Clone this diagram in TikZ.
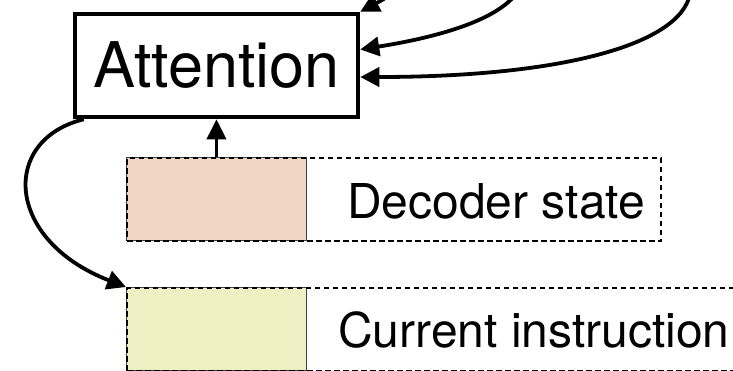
\documentclass[tikz,border=0pt]{standalone}
\usepackage{fontspec}
\setmainfont{TeX Gyre Heros}
\usetikzlibrary{arrows.meta}
\definecolor{decfill}{HTML}{F0D5C4}
\definecolor{curfill}{HTML}{EEF0C4}
\begin{document}
\begin{tikzpicture}[x=1pt,y=-1pt,
  conn/.style={line width=3.8pt,-{Triangle[length=19pt,width=19pt]}},
  upconn/.style={line width=3.3pt,-{Triangle[length=20pt,width=19pt]}},
  slot/.style={draw=black!75,line width=0.9pt,inner sep=0,anchor=north west},
  dashbox/.style={draw,dash pattern=on 5.5pt off 3.5pt,line width=2pt,inner sep=0,anchor=north west},
  biglabel/.style={font=\fontsize{48}{48}\selectfont,anchor=base west,inner sep=0}]
\useasboundingbox (0,0) rectangle (733,370);
\clip (0,0) rectangle (733,370);

% attention module
\node[draw,line width=4.5pt,minimum width=283pt,minimum height=103pt,inner sep=0,
      font=\fontsize{63}{63}\selectfont] (attn) at (216.5,65.5) {Attention};

% decoder state slot
\node[slot,fill=decfill,minimum width=180pt,minimum height=83pt] (dec) at (126,157) {};
\node[dashbox,minimum width=534pt,minimum height=83pt] (decframe) at (126,157) {};
\node[biglabel] (declabel) at (347,218) {Decoder state};

% current instruction slot
\node[slot,fill=curfill,minimum width=180pt,minimum height=83pt] (cur) at (126,287) {};
\node[dashbox,minimum width=640pt,minimum height=83pt] (curframe) at (126,287) {};
\node[biglabel] (curlabel) at (338,347) {Current instruction};

% incoming sources above the picture
\coordinate (src1) at (400,-14);
\coordinate (src2) at (516,-6);
\coordinate (src3) at (690,-6);

\draw[conn] (src1) .. controls (386,-2) .. (attn.north east);
\draw[conn] (src2) .. controls (492,25) and (420,40) .. ([yshift=16pt]attn.east);
\draw[conn] (src3) .. controls (680,45) and (560,77) .. ([yshift=-11.5pt]attn.east);

\draw[upconn] (dec.north) -- (dec.north |- attn.south);
\draw[conn] ([xshift=11pt]attn.south west) .. controls (0,140) and (5,240) .. (cur.north west);
\end{tikzpicture}
\end{document}
